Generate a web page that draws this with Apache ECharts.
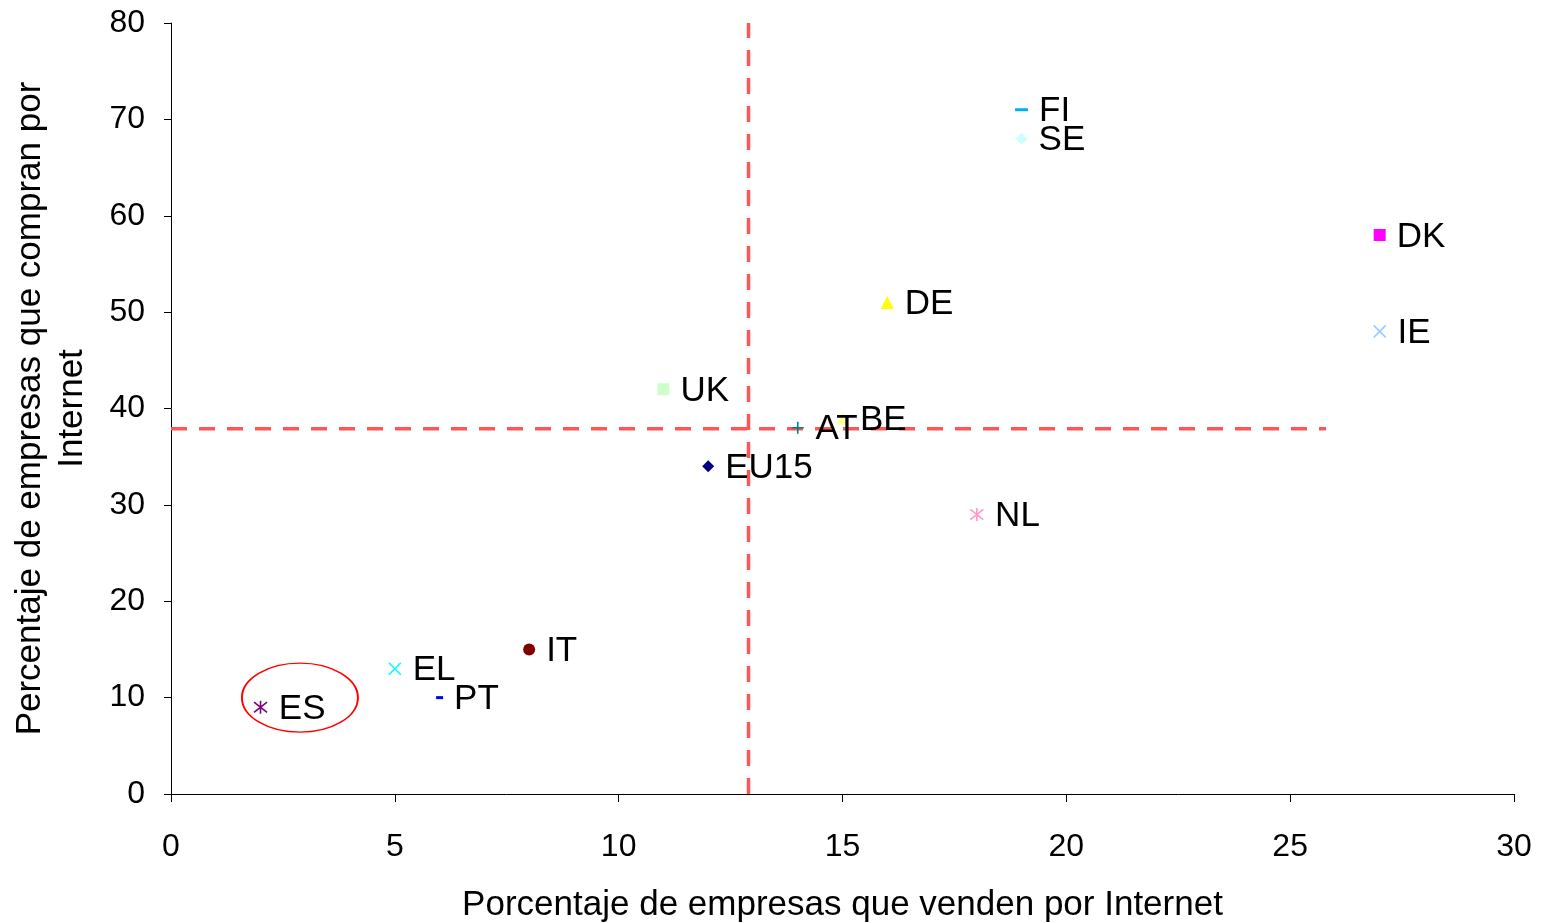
<!DOCTYPE html>
<html>
<head>
<meta charset="utf-8">
<title>Comercio electrónico</title>
<script src="https://cdn.jsdelivr.net/npm/echarts@6/dist/echarts.min.js"></script>
<style>
  html, body { margin: 0; padding: 0; background: #fff; }
  #chart { width: 1545px; height: 923px; }
</style>
</head>
<body>
<div id="chart"></div>
<script>
  // datos: % de empresas que venden / compran por Internet
  const countries = ['FI', 'SE', 'DK', 'DE', 'IE', 'UK', 'AT', 'BE', 'EU15', 'NL', 'IT', 'EL', 'PT', 'ES'];
  const sellPct = [19, 19, 27, 16, 27, 11, 14, 15, 12, 18, 8, 5, 6, 2];
  const buyPct = [71, 68, 58, 51, 48, 42, 38, 39, 34, 29, 15, 13, 10, 9];

  // medias (líneas discontinuas)
  const avgLineV = [[12.9, 0], [12.9, 80]];
  const avgLineH = [[0, 37.9], [25.8, 37.9]];
  // elipse que resalta ES
  const highlight = [2.88, 10];

  const xTicks = [0, 5, 10, 15, 20, 25, 30];
  const yTicks = [0, 10, 20, 30, 40, 50, 60, 70, 80];

  const FONT = 'Liberation Sans, Arial, sans-serif';
  const crossPath = 'path://M0,0L10,10M10,0L0,10';
  const plusPath = 'path://M5,0L5,10M0,5L10,5';
  const starPath = 'path://M0,1L10,9M10,1L0,9M5,0L5,10';

  // estilo de cada marcador (colores tipo Excel)
  const markers = {
    FI: { symbol: 'rect', size: [13, 3], color: '#00B0F0' },
    SE: { symbol: 'diamond', size: 12, color: '#CCFFFF' },
    DK: { symbol: 'rect', size: 12, color: '#FF00FF' },
    DE: { symbol: 'triangle', size: 13, color: '#FFFF00' },
    IE: { symbol: crossPath, size: 12, color: '#99CCFF', stroke: true },
    UK: { symbol: 'rect', size: 12, color: '#CCFFCC' },
    AT: { symbol: plusPath, size: 12, color: '#008080', stroke: true },
    BE: { symbol: 'triangle', size: 13, color: '#FFFF99' },
    EU15: { symbol: 'diamond', size: 12, color: '#000080' },
    NL: { symbol: starPath, size: 13, color: '#FF99CC', stroke: true },
    IT: { symbol: 'circle', size: 12, color: '#800000' },
    EL: { symbol: crossPath, size: 12, color: '#00FFFF', stroke: true },
    PT: { symbol: 'rect', size: [7, 3], color: '#0000FF' },
    ES: { symbol: starPath, size: 13, color: '#800080', stroke: true }
  };

  let chart = echarts.init(document.getElementById('chart'));

  let series = [
    {
      type: 'line',
      data: avgLineV,
      symbol: 'none',
      silent: true,
      z: 1,
      lineStyle: { color: '#FF5555', width: 3.5, type: [16, 12] }
    },
    {
      type: 'line',
      data: avgLineH,
      symbol: 'none',
      silent: true,
      z: 1,
      lineStyle: { color: '#FF5555', width: 3.5, type: [16, 12] }
    },
    {
      type: 'scatter',
      data: [highlight],
      symbol: 'circle',
      symbolSize: [116, 69],
      silent: true,
      z: 2,
      itemStyle: { color: 'none', borderColor: '#FF0000', borderWidth: 1.5, opacity: 1 }
    }
  ];

  countries.forEach(function (name, i) {
    let m = markers[name];
    series.push({
      name: name,
      type: 'scatter',
      z: 3,
      symbol: m.symbol,
      symbolSize: m.size,
      data: [[sellPct[i], buyPct[i]]],
      itemStyle: m.stroke
        ? { color: m.color, borderColor: m.color, borderWidth: 1.6, opacity: 1 }
        : { color: m.color, opacity: 1 },
      label: {
        show: true,
        position: 'right',
        distance: 10,
        offset: [1, 2],
        formatter: name,
        color: '#000',
        opacity: 1,
        fontSize: 35,
        fontFamily: FONT
      }
    });
  });

  let option = {
    backgroundColor: '#fff',
    animation: false,
    grid: { left: 171, right: 31, top: 23, bottom: 129, containLabel: false, outerBoundsMode: 'none' },
    xAxis: {
      type: 'value',
      min: xTicks[0],
      max: xTicks[xTicks.length - 1],
      interval: 5,
      name: 'Porcentaje de empresas que venden por Internet',
      nameLocation: 'middle',
      nameGap: 94,
      nameTextStyle: { fontSize: 35, fontFamily: FONT, color: '#000' },
      axisLine: { show: true, lineStyle: { color: '#000', width: 1 } },
      axisTick: { show: true, length: 8, lineStyle: { color: '#000' } },
      axisLabel: { fontSize: 32, fontFamily: FONT, color: '#000', margin: 37 },
      splitLine: { show: false }
    },
    yAxis: {
      type: 'value',
      min: yTicks[0],
      max: yTicks[yTicks.length - 1],
      interval: 10,
      name: 'Percentaje de empresas que compran por\nInternet',
      nameLocation: 'middle',
      nameGap: 78,
      nameTextStyle: { fontSize: 35, fontFamily: FONT, color: '#000', lineHeight: 42, align: 'center' },
      axisLine: { show: true, lineStyle: { color: '#000', width: 1 } },
      axisTick: { show: true, length: 7, lineStyle: { color: '#000' } },
      axisLabel: { fontSize: 32, fontFamily: FONT, color: '#000', margin: 26 },
      splitLine: { show: false }
    },
    series: series
  };

  chart.setOption(option);
</script>
</body>
</html>
